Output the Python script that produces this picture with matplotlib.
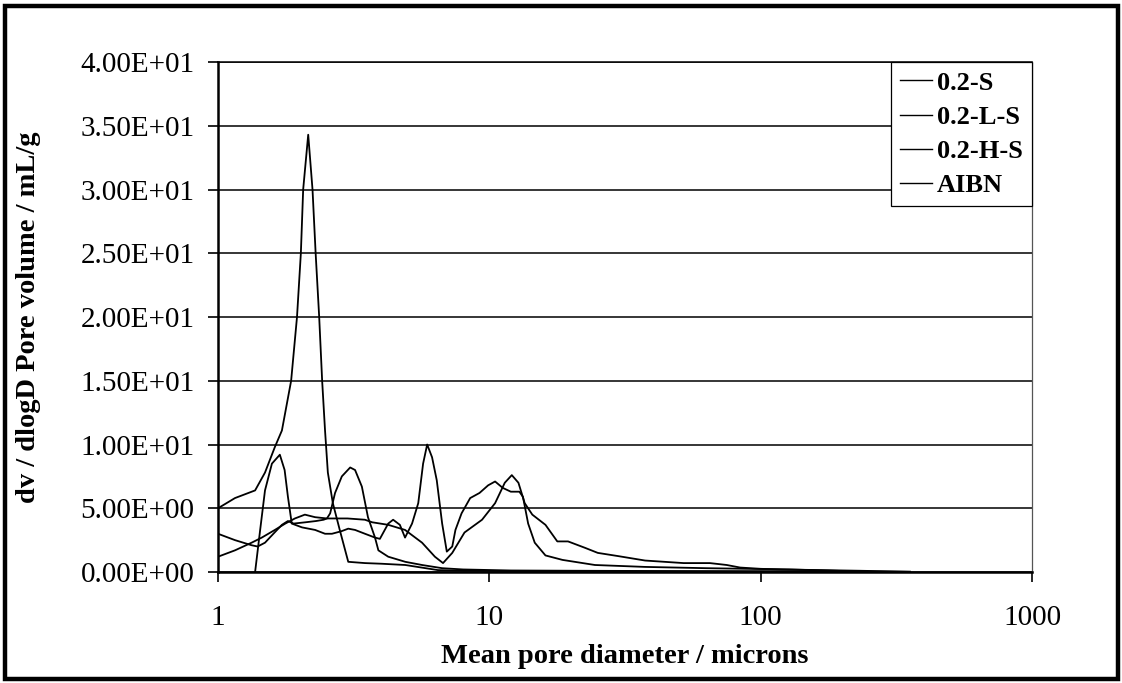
import matplotlib.pyplot as plt
import numpy as np
from matplotlib.patches import Rectangle
from matplotlib.ticker import FuncFormatter, FixedLocator, NullLocator

plt.rcParams['font.family'] = ['Liberation Serif', 'DejaVu Serif']

# 0.2-S : tall peak near 2 microns
s_x = [1.0, 1.155, 1.37, 1.49, 1.62, 1.72, 1.86, 1.955, 2.02, 2.06, 2.15, 2.23, 2.29, 2.36,
       2.42, 2.48, 2.54, 2.65, 2.81, 3.02, 3.48, 4.0, 4.9, 6.46, 8.0, 12, 20, 40, 80, 150, 250]
s_y = [5.0, 5.8, 6.4, 7.8, 9.8, 11.1, 15.0, 20.0, 25.0, 30.0, 34.3, 30.0, 25.0, 20.0,
       15.0, 11.1, 7.8, 5.4, 3.3, 0.8, 0.7, 0.65, 0.55, 0.15, 0.1, 0.08, 0.06, 0.05, 0.05, 0.04, 0.02]

# 0.2-L-S
ls_x = [1.37, 1.43, 1.49, 1.58, 1.69, 1.76, 1.81, 1.87, 2.04, 2.28, 2.48, 2.63, 2.85, 3.02, 3.2,
        3.48, 3.79, 3.9, 4.24, 4.9, 5.65, 6.7, 8, 12, 20, 40, 80, 150, 250, 355]
ls_y = [0.0, 3.3, 6.4, 8.5, 9.2, 8.0, 5.9, 3.8, 3.5, 3.3, 3.0, 3.0, 3.2, 3.4, 3.3,
        3.0, 2.7, 1.7, 1.2, 0.8, 0.55, 0.3, 0.2, 0.12, 0.1, 0.08, 0.06, 0.05, 0.04, 0.02]

# 0.2-H-S
hs_x = [1.0, 1.155, 1.33, 1.40, 1.49, 1.6, 1.72, 1.81, 1.9, 2.1, 2.3, 2.45, 2.52, 2.59, 2.7,
        2.86, 3.07, 3.2, 3.39, 3.57, 3.79, 3.95, 4.24, 4.42, 4.68, 4.89, 5.19, 5.47, 5.7, 5.9,
        6.15, 6.4, 6.7, 6.97, 7.3, 7.5, 7.9, 8.5, 9.2, 9.9, 10.5, 11.2, 12.0, 12.9, 13.3, 13.9,
        14.7, 16.1, 18.6, 24.5, 37.5, 63, 128, 200]
hs_y = [3.0, 2.5, 2.1, 2.0, 2.3, 3.0, 3.7, 4.0, 3.8, 3.9, 4.0, 4.1, 4.2, 4.6, 6.2,
        7.5, 8.2, 8.0, 6.7, 4.3, 2.7, 2.6, 3.8, 4.1, 3.7, 2.7, 3.8, 5.4, 8.5, 10.0,
        9.0, 7.2, 3.8, 1.6, 2.0, 3.3, 4.6, 5.8, 6.2, 6.8, 7.1, 6.6, 6.3, 6.3, 5.9, 3.8,
        2.3, 1.3, 0.95, 0.55, 0.4, 0.3, 0.2, 0.08]

# AIBN
ai_x = [1.0, 1.155, 1.33, 1.45, 1.62, 1.77, 1.92, 2.09, 2.28, 2.52, 3.0, 3.48, 3.7, 4.24,
        4.89, 5.65, 6.3, 6.75, 7.3, 8.1, 9.4, 10.5, 11.4, 12.1, 12.8, 13.5, 14.4, 16.1, 17.8,
        19.5, 22.5, 25.1, 29.8, 37.5, 52, 65, 75, 84, 100, 120, 230, 355]
ai_y = [1.2, 1.7, 2.3, 2.7, 3.3, 3.8, 4.2, 4.5, 4.3, 4.2, 4.2, 4.1, 3.9, 3.7,
        3.3, 2.3, 1.2, 0.7, 1.5, 3.1, 4.1, 5.4, 7.0, 7.6, 7.0, 5.4, 4.5, 3.7, 2.4,
        2.4, 1.9, 1.5, 1.25, 0.9, 0.7, 0.7, 0.55, 0.35, 0.25, 0.2, 0.1, 0.02]

series = [('0.2-S', s_x, s_y), ('0.2-L-S', ls_x, ls_y),
          ('0.2-H-S', hs_x, hs_y), ('AIBN', ai_x, ai_y)]
y_ticks = [0, 5, 10, 15, 20, 25, 30, 35, 40]
x_ticks = [1, 10, 100, 1000]

fig = plt.figure(figsize=(11.22, 6.83), dpi=100)
ax = fig.add_axes([0.1943, 0.1625, 0.7255, 0.7467])

for name, xs, ys in series:
    ax.plot(xs, ys, color='black', lw=1.3, label=name)

ax.set_xscale('log')
ax.set_xlim(1, 1000)
ax.set_ylim(0, 40)
ax.xaxis.set_major_locator(FixedLocator(x_ticks))
ax.xaxis.set_minor_locator(NullLocator())
ax.xaxis.set_major_formatter(FuncFormatter(lambda v, p: '%g' % v))
ax.set_yticks(y_ticks)
ax.yaxis.set_major_formatter(FuncFormatter(lambda v, p: '%.2E' % v))

ax.yaxis.grid(True, color='black', lw=1.1)
ax.set_axisbelow(True)
ax.tick_params(axis='both', direction='out', length=7, width=1.2, labelsize=21, color='black')
ax.tick_params(axis='y', pad=10)
ax.tick_params(axis='x', pad=17)
ax.spines['left'].set_linewidth(1.8)
ax.spines['bottom'].set_linewidth(1.8)
ax.spines['top'].set_linewidth(1.1)
ax.spines['right'].set_color('#555555')
ax.spines['right'].set_linewidth(0.9)

ax.set_xlabel('Mean pore diameter / microns', fontsize=20.5, fontweight='bold', labelpad=9)
ax.set_ylabel('dv / dlogD Pore volume / mL/g', fontsize=20.5, fontweight='bold', labelpad=28)

leg = ax.legend(loc='upper right', frameon=True, fancybox=False,
                prop={'size': 19, 'weight': 'bold'},
                edgecolor='black', framealpha=1, borderaxespad=0, handlelength=1.2,
                handletextpad=0.2, labelspacing=0.4, borderpad=0.35)
leg.get_frame().set_linewidth(0.9)
for line in leg.get_lines():
    line.set_linewidth(1.0)

# thick outer frame
fig.patches.append(Rectangle((0.0045, 0.006), 0.992, 0.985, transform=fig.transFigure,
                             fill=False, edgecolor='black', lw=3.2))

fig.savefig('out.png', dpi=100)
